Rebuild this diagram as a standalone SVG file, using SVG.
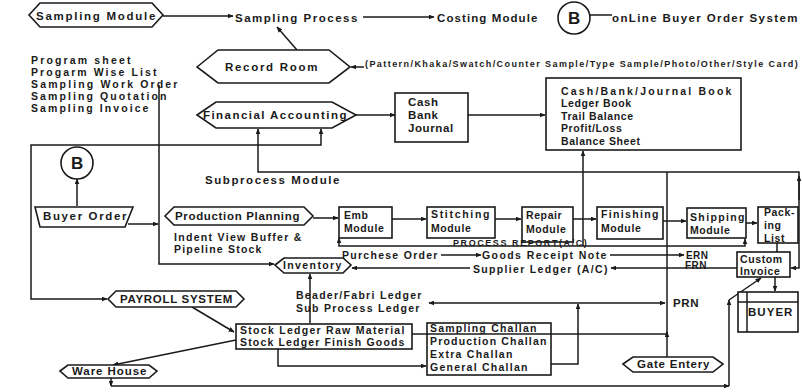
<svg xmlns="http://www.w3.org/2000/svg" width="802" height="392" viewBox="0 0 802 392">
<defs>
<style>
text{font-family:"Liberation Sans",Arial,sans-serif;font-weight:bold;font-size:11.5px;fill:#1a1a1a;letter-spacing:0.6px}
.l{font-size:10.5px}
.sm{font-size:9px;letter-spacing:0.2px}
.e{font-size:10px;letter-spacing:0.4px}
.b{font-size:17px}
.shape{fill:#fff;stroke:#1a1a1a;stroke-width:1.6}
.ln{fill:none;stroke:#1a1a1a;stroke-width:1.5}
.ar{marker-end:url(#ah)}
.both{marker-start:url(#ah);marker-end:url(#ah)}
</style>
<marker id="ah" viewBox="0 0 10 10" refX="9" refY="5" markerWidth="6" markerHeight="5" markerUnits="userSpaceOnUse" orient="auto-start-reverse" preserveAspectRatio="none">
<path d="M0,0 L10,5 L0,10 Z" fill="#1a1a1a"/>
</marker>
</defs>
<rect width="802" height="392" fill="#fff"/>

<g id="connectors">
<path class="ln ar" d="M163,16 H233"/>
<path class="ln ar" d="M363,17 H434"/>
<path class="ln" d="M590,15 H612"/>
<path class="ln ar" d="M297,50 L277,27"/>
<path class="ln ar" d="M364,67 H351"/>
<path class="ln ar" d="M355,115 H395"/>
<path class="ln ar" d="M468,115 H545"/>
<path class="ln both" d="M321,129 V145 H31 V299 H107"/>
<path class="ln both" d="M791,268 H799 V172 H258 V129"/>
<path class="ln ar" d="M799,200 V176"/>
<path class="ln ar" d="M583,246 V151"/>
<path class="ln" d="M667,334 V172"/>
<path class="ln ar" d="M667,357 V332"/>
<path class="ln" d="M412,334 H667"/>
<path class="ln ar" d="M610,255 H684"/>
<path class="ln ar" d="M441,255 H481"/>
<path class="ln ar" d="M737,268 H611"/>
<path class="ln ar" d="M470,268 H352"/>
<path class="ln ar" d="M159,85 V264 H274"/>
<path class="ln ar" d="M128,224 H158"/>
<path class="ln ar" d="M77,206 V179"/>
<path class="ln ar" d="M313,218 H338"/>
<path class="ln ar" d="M392,219 H426"/>
<path class="ln ar" d="M495,219 H521"/>
<path class="ln ar" d="M573,219 H596"/>
<path class="ln ar" d="M663,221 H686"/>
<path class="ln ar" d="M746,223 H757"/>
<path class="ln both" d="M339,238 V246 H745 V239"/>
<path class="ln" d="M777,243 V252"/>
<path class="ln ar" d="M775,277 V291"/>
<path class="ln ar" d="M111,377 V386"/>
<path class="ln ar" d="M111,386 H729"/>
<path class="ln ar" d="M729,386 V300"/>
<path class="ln ar" d="M729,300 L761,278"/>
<path class="ln ar" d="M310,323 V274"/>
<path class="ln ar" d="M192,307 L234,332"/>
<path class="ln ar" d="M236,340 L113,365"/>
<path class="ln ar" d="M278,349 V366 H426"/>
<path class="ln ar" d="M551,364 H578 V304"/>
<path class="ln both" d="M429,303 H665"/>
</g>

<g id="sampling-module">
<polygon class="shape" points="29,15 40,3 152,3 163,15 152,27 40,27"/>
<text x="36" y="20" textLength="120">Sampling Module</text>
</g>
<g id="sampling-process"><text x="235" y="22" textLength="123">Sampling Process</text></g>
<g id="costing-module"><text x="437" y="22" textLength="101">Costing Module</text></g>
<g id="b-top">
<circle class="shape" cx="574" cy="18" r="16"/>
<text class="b" x="568" y="24">B</text>
</g>
<g id="online-buyer"><text x="612" y="22" textLength="186">onLine Buyer Order System</text></g>

<g id="record-room">
<polygon class="shape" points="197,67 218,50 329,50 350,67 329,83 218,83"/>
<text x="225" y="71" textLength="93">Record Room</text>
</g>
<g id="pattern"><text class="sm" x="365" y="67" textLength="433">(Pattern/Khaka/Swatch/Counter Sample/Type Sample/Photo/Other/Style Card)</text></g>

<g id="program-list">
<text class="l" x="31" y="64" textLength="100">Program sheet</text>
<text class="l" x="31" y="76" textLength="126">Progarm Wise List</text>
<text class="l" x="31" y="88" textLength="147">Sampling Work Order</text>
<text class="l" x="31" y="100" textLength="136">Sampling Quotation</text>
<text class="l" x="31" y="112" textLength="118">Sampling Invoice</text>
</g>

<g id="financial-accounting">
<polygon class="shape" points="197,115 216,102 332,102 356,115 332,128 216,128"/>
<text x="203" y="119" textLength="144">Financial Accounting</text>
</g>
<g id="cash-bank-journal">
<rect class="shape" x="395" y="93" width="73" height="49"/>
<text x="408" y="106">Cash</text>
<text x="408" y="119">Bank</text>
<text x="408" y="132">Journal</text>
</g>
<g id="books">
<rect class="shape" x="546" y="78" width="195" height="72"/>
<text class="l" x="561" y="95" textLength="171">Cash/Bank/Journal Book</text>
<text class="l" x="561" y="107">Ledger Book</text>
<text class="l" x="561" y="120">Trail Balance</text>
<text class="l" x="561" y="132">Profit/Loss</text>
<text class="l" x="561" y="145">Balance Sheet</text>
</g>
<g id="subprocess"><text x="205" y="184" textLength="135">Subprocess Module</text></g>

<g id="b-left">
<circle class="shape" cx="77" cy="163" r="16"/>
<text class="b" x="71" y="169">B</text>
</g>
<g id="buyer-order">
<polygon class="shape" points="35,207 133,207 125,227 40,227"/>
<text x="43" y="220" textLength="84">Buyer Order</text>
</g>
<g id="production-planning">
<polygon class="shape" points="165,216 174,207 304,207 313,216 304,225 174,225"/>
<text x="175" y="220" textLength="125">Production Planning</text>
</g>
<g id="indent"><text class="l" x="174" y="241" textLength="128">Indent View Buffer &amp;</text><text class="l" x="174" y="253" textLength="88">Pipeline Stock</text></g>

<g id="emb">
<rect class="shape" x="339" y="207" width="53" height="31"/>
<text class="l" x="344" y="219">Emb</text><text class="l" x="344" y="232">Module</text>
</g>
<g id="stitching">
<rect class="shape" x="427" y="207" width="68" height="31"/>
<text class="l" x="431" y="218" textLength="59">Stitching</text><text class="l" x="431" y="232">Module</text>
</g>
<g id="repair">
<rect class="shape" x="522" y="207" width="51" height="35"/>
<text class="l" x="526" y="219">Repair</text><text class="l" x="526" y="233">Module</text>
</g>
<g id="finishing">
<rect class="shape" x="597" y="207" width="66" height="32"/>
<text class="l" x="601" y="218" textLength="58">Finishing</text><text class="l" x="601" y="232">Module</text>
</g>
<g id="shipping">
<rect class="shape" x="687" y="208" width="59" height="30"/>
<text class="l" x="690" y="221" textLength="55">Shipping</text><text class="l" x="690" y="234">Module</text>
</g>
<g id="packing-list">
<rect class="shape" x="758" y="207" width="40" height="36"/>
<text class="l" x="764" y="216">Pack-</text><text class="l" x="764" y="229">ing</text><text class="l" x="764" y="242">List</text>
</g>
<g id="process-report"><text class="sm" x="453" y="246" textLength="134">PROCESS REPORT(A/C)</text></g>
<g id="purchase-order"><text class="l" x="342" y="259" textLength="96">Purchese Order</text></g>
<g id="goods-receipt"><text class="l" x="482" y="259" textLength="125">Goods Receipt Note</text></g>
<g id="ern-frn"><text class="e" x="686" y="259">ERN</text><text class="e" x="685" y="269">FRN</text></g>
<g id="supplier-ledger"><text class="l" x="473" y="273" textLength="135">Supplier Ledger (A/C)</text></g>
<g id="custom-invoice">
<rect class="shape" x="737" y="252" width="53" height="25"/>
<text class="l" x="740" y="263">Custom</text><text class="l" x="740" y="275">Invoice</text>
</g>
<g id="inventory">
<polygon class="shape" points="275,265 284,258 343,258 351,265 343,273 284,273"/>
<text class="l" x="283" y="269" textLength="59">Inventory</text>
</g>
<g id="payroll">
<polygon class="shape" points="108,299 116,291 236,291 244,299 236,307 116,307"/>
<text x="120" y="303" textLength="113">PAYROLL SYSTEM</text>
</g>
<g id="ledgers"><text class="l" x="296" y="299" textLength="126">Beader/Fabri Ledger</text><text class="l" x="296" y="312" textLength="124">Sub Process Ledger</text></g>
<g id="prn"><text x="673" y="307">PRN</text></g>
<g id="buyer">
<rect class="shape" x="738" y="292" width="60" height="40"/>
<path class="ln" d="M747,292 V332 M738,302 H798"/>
<text x="748" y="316" textLength="45">BUYER</text>
</g>
<g id="stock-ledger">
<rect class="shape" x="236" y="324" width="176" height="25"/>
<text class="l" x="240" y="334" textLength="165">Stock Ledger Raw Material</text>
<text class="l" x="240" y="346" textLength="165">Stock Ledger Finish Goods</text>
</g>
<g id="challan">
<rect class="shape" x="427" y="323" width="124" height="52" fill-opacity="0"/>
<text class="l" x="430" y="332" textLength="107">Sampling Challan</text>
<text class="l" x="430" y="345" textLength="117">Production Challan</text>
<text class="l" x="430" y="358" textLength="83">Extra Challan</text>
<text class="l" x="430" y="371" textLength="98">General Challan</text>
</g>
<g id="gate-entery">
<polygon class="shape" points="623,364 633,357 713,357 723,364 713,372 633,372"/>
<text x="637" y="368" textLength="73">Gate Entery</text>
</g>
<g id="ware-house">
<polygon class="shape" points="60,371 68,365 149,365 157,371 149,378 68,378"/>
<text x="72" y="375" textLength="75">Ware House</text>
</g>
</svg>
